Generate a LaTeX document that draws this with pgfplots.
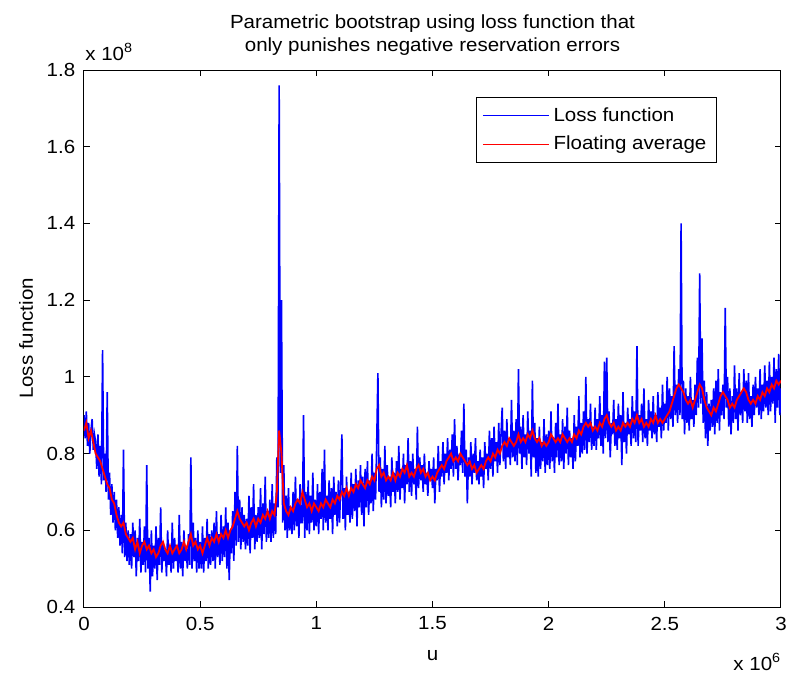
\documentclass[border=0pt]{standalone}
\usepackage{fontspec}
\setmainfont{Liberation Sans}[FakeStretch=1.08]
\usepackage{pgfplots}
\pgfplotsset{compat=1.18}

\begin{document}
\fontsize{9.5pt}{11.5pt}\selectfont
\begin{tikzpicture}
% frame of the whole picture: 789 x 677 px at 0.5pt per px
\path[use as bounding box] (-42pt,-35pt) rectangle (352.5pt,303.5pt);
\begin{axis}[
    name=ax,
    scale only axis,
    width=348.5pt, height=268.5pt,
    xmin=0, xmax=3, ymin=0.4, ymax=1.8,
    xtick={0,0.5,...,3}, ytick={0.4,0.6,...,1.8},
    scaled ticks=false,
    /pgf/number format/assume math mode=true,
    tick align=inside, major tick length=3pt,
    axis line style={line width=0.5pt},
    tick style={line width=0.5pt, black},
    xticklabel style={yshift=-1.5pt},
    yticklabel style={xshift=-1pt},
    xlabel={u},
    xlabel style={at={(axis description cs:0.5,0)}, anchor=base, yshift=-26.5pt},
    ylabel={Loss function},
    ylabel style={at={(axis description cs:0,0.5)}, anchor=center, yshift=29pt},
    legend cell align=left,
    legend style={at={(0.908,0.950)}, anchor=north east, draw=black,
      line width=0.5pt, fill=white, inner xsep=3pt, inner ysep=3pt,
      row sep=2pt},
    legend image code/.code={\draw[#1, line width=0.6pt] (0pt,0pt) -- (33pt,0pt);},
    clip mode=individual,
  ]
\addplot[blue, line width=0.8pt] coordinates {
(0,0.90)(0.005,0.84)(0.01,0.91)(0.015,0.82)(0.02,0.88)(0.025,0.80)(0.03,0.86)(0.035,0.89)(0.04,0.81)(0.045,0.85)
(0.05,0.83)(0.055,0.76)(0.06,0.85)(0.065,0.74)(0.07,0.82)(0.075,0.72)(0.08,1.07)(0.085,0.73)(0.09,0.80)(0.095,0.70)
(0.1,0.96)(0.105,0.68)(0.11,0.75)(0.115,0.64)(0.12,0.72)(0.125,0.62)(0.13,0.70)(0.135,0.60)(0.14,0.68)(0.145,0.58)
(0.15,0.66)(0.155,0.56)(0.16,0.64)(0.165,0.54)(0.17,0.81)(0.175,0.53)(0.18,0.62)(0.185,0.52)(0.19,0.60)(0.195,0.51)
(0.2,0.59)(0.205,0.50)(0.21,0.62)(0.215,0.53)(0.22,0.60)(0.225,0.48)(0.23,0.58)(0.235,0.52)(0.24,0.63)(0.245,0.49)
(0.25,0.57)(0.255,0.51)(0.26,0.61)(0.265,0.49)(0.27,0.77)(0.275,0.50)(0.28,0.58)(0.285,0.44)(0.29,0.60)(0.295,0.48)
(0.3,0.56)(0.305,0.50)(0.31,0.61)(0.315,0.47)(0.32,0.58)(0.325,0.51)(0.33,0.66)(0.335,0.49)(0.34,0.57)(0.345,0.52)
(0.35,0.55)(0.355,0.48)(0.36,0.60)(0.365,0.51)(0.37,0.56)(0.375,0.49)(0.38,0.62)(0.385,0.50)(0.39,0.58)(0.395,0.52)
(0.4,0.56)(0.405,0.49)(0.41,0.64)(0.415,0.50)(0.42,0.57)(0.425,0.48)(0.43,0.60)(0.435,0.52)(0.44,0.55)(0.445,0.50)
(0.45,0.59)(0.455,0.51)(0.46,0.79)(0.465,0.50)(0.47,0.62)(0.475,0.52)(0.48,0.58)(0.485,0.49)(0.49,0.60)(0.495,0.50)
(0.5,0.57)(0.505,0.50)(0.51,0.61)(0.515,0.49)(0.52,0.58)(0.525,0.52)(0.53,0.63)(0.535,0.50)(0.54,0.59)(0.545,0.51)
(0.55,0.60)(0.555,0.52)(0.56,0.62)(0.565,0.50)(0.57,0.65)(0.575,0.53)(0.58,0.59)(0.585,0.51)(0.59,0.64)(0.595,0.52)
(0.6,0.61)(0.605,0.53)(0.61,0.66)(0.615,0.50)(0.62,0.62)(0.625,0.47)(0.63,0.60)(0.635,0.54)(0.64,0.65)(0.645,0.52)
(0.65,0.70)(0.655,0.56)(0.66,0.82)(0.665,0.57)(0.67,0.68)(0.675,0.55)(0.68,0.66)(0.685,0.57)(0.69,0.64)(0.695,0.55)
(0.7,0.63)(0.705,0.56)(0.71,0.69)(0.715,0.54)(0.72,0.66)(0.725,0.58)(0.73,0.72)(0.735,0.55)(0.74,0.64)(0.745,0.57)
(0.75,0.66)(0.755,0.58)(0.76,0.71)(0.765,0.55)(0.77,0.67)(0.775,0.59)(0.78,0.74)(0.785,0.57)(0.79,0.65)(0.795,0.58)
(0.8,0.68)(0.805,0.57)(0.81,0.72)(0.815,0.58)(0.82,0.67)(0.825,0.59)(0.83,0.79)(0.835,0.66)(0.84,1.76)(0.845,0.75)
(0.85,1.20)(0.855,0.62)(0.86,0.77)(0.865,0.60)(0.87,0.69)(0.875,0.58)(0.88,0.71)(0.885,0.60)(0.89,0.66)(0.895,0.59)
(0.9,0.70)(0.905,0.60)(0.91,0.74)(0.915,0.61)(0.92,0.68)(0.925,0.58)(0.93,0.72)(0.935,0.62)(0.94,0.62)(0.945,0.90)
(0.95,0.58)(0.955,0.70)(0.96,0.60)(0.965,0.73)(0.97,0.59)(0.975,0.69)(0.98,0.62)(0.985,0.75)(0.99,0.60)(0.995,0.68)
(1.0,0.61)(1.005,0.72)(1.01,0.59)(1.015,0.70)(1.02,0.63)(1.025,0.76)(1.03,0.60)(1.035,0.81)(1.04,0.62)(1.045,0.69)
(1.05,0.60)(1.055,0.73)(1.06,0.63)(1.065,0.71)(1.07,0.59)(1.075,0.74)(1.08,0.64)(1.085,0.70)(1.09,0.61)(1.095,0.73)
(1.1,0.62)(1.105,0.72)(1.11,0.85)(1.115,0.63)(1.12,0.71)(1.125,0.60)(1.13,0.74)(1.135,0.64)(1.14,0.70)(1.145,0.62)
(1.15,0.75)(1.155,0.63)(1.16,0.72)(1.165,0.65)(1.17,0.76)(1.175,0.61)(1.18,0.73)(1.185,0.66)(1.19,0.77)(1.195,0.64)
(1.2,0.74)(1.205,0.61)(1.21,0.76)(1.215,0.66)(1.22,0.78)(1.225,0.64)(1.23,0.73)(1.235,0.67)(1.24,0.80)(1.245,0.65)
(1.25,0.75)(1.255,0.68)(1.26,0.83)(1.265,1.01)(1.27,0.70)(1.275,0.79)(1.28,0.66)(1.285,0.76)(1.29,0.68)(1.295,0.82)
(1.3,0.67)(1.305,0.77)(1.31,0.69)(1.315,0.74)(1.32,0.66)(1.325,0.79)(1.33,0.70)(1.335,0.75)(1.34,0.67)(1.345,0.78)
(1.35,0.70)(1.355,0.82)(1.36,0.68)(1.365,0.76)(1.37,0.71)(1.375,0.80)(1.38,0.67)(1.385,0.77)(1.39,0.72)(1.395,0.84)
(1.4,0.70)(1.405,0.78)(1.41,0.69)(1.415,0.80)(1.42,0.72)(1.425,0.76)(1.43,0.68)(1.435,0.87)(1.44,0.71)(1.445,0.79)
(1.45,0.73)(1.455,0.77)(1.46,0.70)(1.465,0.80)(1.47,0.72)(1.475,0.75)(1.48,0.69)(1.485,0.78)(1.49,0.73)(1.495,0.76)
(1.5,0.71)(1.505,0.79)(1.51,0.67)(1.515,0.76)(1.52,0.73)(1.525,0.82)(1.53,0.70)(1.535,0.78)(1.54,0.74)(1.545,0.83)
(1.55,0.72)(1.555,0.80)(1.56,0.75)(1.565,0.84)(1.57,0.73)(1.575,0.81)(1.58,0.76)(1.585,0.85)(1.59,0.74)(1.595,0.89)
(1.6,0.76)(1.605,0.82)(1.61,0.73)(1.615,0.80)(1.62,0.77)(1.625,0.86)(1.63,0.75)(1.635,0.93)(1.64,0.74)(1.645,0.81)
(1.65,0.67)(1.655,0.79)(1.66,0.74)(1.665,0.83)(1.67,0.72)(1.675,0.80)(1.68,0.75)(1.685,0.84)(1.69,0.73)(1.695,0.78)
(1.7,0.72)(1.705,0.81)(1.71,0.74)(1.715,0.79)(1.72,0.71)(1.725,0.83)(1.73,0.76)(1.735,0.80)(1.74,0.73)(1.745,0.86)
(1.75,0.76)(1.755,0.84)(1.76,0.74)(1.765,0.87)(1.77,0.78)(1.775,0.83)(1.78,0.75)(1.785,0.88)(1.79,0.77)(1.795,0.85)
(1.8,0.92)(1.805,0.78)(1.81,0.86)(1.815,0.76)(1.82,0.89)(1.825,0.79)(1.83,0.84)(1.835,0.77)(1.84,0.94)(1.845,0.79)
(1.85,0.86)(1.855,0.78)(1.86,0.89)(1.865,0.77)(1.87,1.02)(1.875,0.80)(1.88,0.87)(1.885,0.76)(1.89,0.90)(1.895,0.79)
(1.9,0.85)(1.905,0.77)(1.91,0.91)(1.915,0.80)(1.92,0.86)(1.925,0.74)(1.93,0.99)(1.935,0.79)(1.94,0.88)(1.945,0.75)
(1.95,0.84)(1.955,0.74)(1.96,0.87)(1.965,0.76)(1.97,0.83)(1.975,0.78)(1.98,0.89)(1.985,0.75)(1.99,0.85)(1.995,0.77)
(2.0,0.86)(2.005,0.76)(2.01,0.91)(2.015,0.78)(2.02,0.84)(2.025,0.75)(2.03,0.88)(2.035,0.79)(2.04,0.93)(2.045,0.77)
(2.05,0.85)(2.055,0.78)(2.06,0.89)(2.065,0.76)(2.07,0.87)(2.075,0.80)(2.08,0.92)(2.085,0.77)(2.09,0.86)(2.095,0.79)
(2.1,0.84)(2.105,0.76)(2.11,0.90)(2.115,0.78)(2.12,0.87)(2.125,0.82)(2.13,0.95)(2.135,0.79)(2.14,0.88)(2.145,0.80)
(2.15,0.91)(2.155,0.81)(2.16,1.00)(2.165,0.80)(2.17,0.89)(2.175,0.83)(2.18,0.93)(2.185,0.81)(2.19,0.87)(2.195,0.82)
(2.2,0.92)(2.205,0.81)(2.21,0.89)(2.215,0.84)(2.22,0.95)(2.225,0.82)(2.23,0.90)(2.235,0.80)(2.24,1.04)(2.245,0.84)
(2.25,1.05)(2.255,0.83)(2.26,0.91)(2.265,0.79)(2.27,0.88)(2.275,0.85)(2.28,0.94)(2.285,0.82)(2.29,0.89)(2.295,0.81)
(2.3,0.93)(2.305,0.84)(2.31,0.90)(2.315,0.77)(2.32,0.96)(2.325,0.83)(2.33,0.88)(2.335,0.80)(2.34,0.92)(2.345,0.85)
(2.35,0.89)(2.355,0.82)(2.36,0.95)(2.365,0.84)(2.37,0.91)(2.375,0.83)(2.38,1.08)(2.385,0.82)(2.39,0.90)(2.395,0.86)
(2.4,0.93)(2.405,0.83)(2.41,0.97)(2.415,0.84)(2.42,0.89)(2.425,0.82)(2.43,0.94)(2.435,0.86)(2.44,0.91)(2.445,0.84)
(2.45,0.95)(2.455,0.85)(2.46,0.90)(2.465,0.83)(2.47,0.96)(2.475,0.87)(2.48,0.92)(2.485,0.84)(2.49,0.98)(2.495,0.86)
(2.5,0.93)(2.505,0.88)(2.51,1.00)(2.515,0.86)(2.52,0.97)(2.525,0.89)(2.53,0.95)(2.535,0.87)(2.54,1.08)(2.545,0.90)
(2.55,0.98)(2.555,0.88)(2.56,1.02)(2.565,0.90)(2.57,1.40)(2.575,0.89)(2.58,0.99)(2.585,0.85)(2.59,0.97)(2.595,0.88)
(2.6,0.95)(2.605,0.86)(2.61,1.00)(2.615,0.89)(2.62,0.94)(2.625,0.87)(2.63,0.98)(2.635,0.90)(2.64,1.05)(2.645,0.92)
(2.65,1.27)(2.655,0.93)(2.66,1.10)(2.665,0.88)(2.67,0.99)(2.675,0.84)(2.68,0.96)(2.685,0.82)(2.69,0.93)(2.695,0.86)
(2.7,0.94)(2.705,0.87)(2.71,0.97)(2.715,0.85)(2.72,0.99)(2.725,0.88)(2.73,1.02)(2.735,0.86)(2.74,0.96)(2.745,0.90)
(2.75,0.98)(2.755,0.89)(2.76,1.18)(2.765,0.92)(2.77,1.00)(2.775,0.87)(2.78,0.97)(2.785,0.85)(2.79,0.95)(2.795,0.88)
(2.8,1.03)(2.805,0.89)(2.81,0.97)(2.815,0.86)(2.82,1.01)(2.825,0.90)(2.83,0.96)(2.835,0.88)(2.84,1.02)(2.845,0.91)
(2.85,0.99)(2.855,0.88)(2.86,1.01)(2.865,0.89)(2.87,0.95)(2.875,0.87)(2.88,0.98)(2.885,0.90)(2.89,1.00)(2.895,0.92)
(2.9,0.97)(2.905,0.90)(2.91,1.02)(2.915,0.89)(2.92,0.98)(2.925,0.91)(2.93,1.03)(2.935,0.92)(2.94,0.99)(2.945,0.90)
(2.95,1.04)(2.955,0.91)(2.96,1.00)(2.965,0.93)(2.97,1.05)(2.975,0.88)(2.98,1.02)(2.985,0.92)(2.99,1.06)(2.995,0.90)(3.0,0.97)
};
\addlegendentry{Loss function}
\addplot[red, line width=0.9pt] coordinates {
(0,0.86)(0.01,0.88)(0.02,0.84)(0.03,0.86)(0.04,0.83)(0.05,0.80)(0.06,0.79)(0.07,0.78)(0.08,0.76)(0.09,0.74)
(0.1,0.72)(0.11,0.71)(0.12,0.68)(0.13,0.67)(0.14,0.64)(0.15,0.62)(0.16,0.61)(0.17,0.62)(0.18,0.59)(0.19,0.58)
(0.2,0.57)(0.21,0.58)(0.22,0.55)(0.23,0.57)(0.24,0.54)(0.25,0.56)(0.26,0.57)(0.27,0.55)(0.28,0.56)(0.29,0.54)
(0.3,0.55)(0.31,0.53)(0.32,0.54)(0.33,0.56)(0.34,0.57)(0.35,0.55)(0.36,0.54)(0.37,0.56)(0.38,0.54)(0.39,0.55)
(0.4,0.56)(0.41,0.54)(0.42,0.55)(0.43,0.57)(0.44,0.55)(0.45,0.57)(0.46,0.59)(0.47,0.56)(0.48,0.57)(0.49,0.55)
(0.5,0.56)(0.51,0.54)(0.52,0.56)(0.53,0.58)(0.54,0.56)(0.55,0.58)(0.56,0.57)(0.57,0.59)(0.58,0.57)(0.59,0.59)
(0.6,0.58)(0.61,0.60)(0.62,0.58)(0.63,0.60)(0.64,0.61)(0.65,0.63)(0.66,0.65)(0.67,0.63)(0.68,0.62)(0.69,0.61)
(0.7,0.62)(0.71,0.60)(0.72,0.62)(0.73,0.63)(0.74,0.61)(0.75,0.63)(0.76,0.62)(0.77,0.64)(0.78,0.63)(0.79,0.65)
(0.8,0.63)(0.81,0.65)(0.82,0.64)(0.83,0.70)(0.84,0.86)(0.85,0.80)(0.86,0.67)(0.87,0.65)(0.88,0.64)(0.89,0.66)
(0.9,0.65)(0.91,0.67)(0.92,0.68)(0.93,0.67)(0.94,0.70)(0.95,0.68)(0.96,0.66)(0.97,0.67)(0.98,0.65)(0.99,0.67)
(1.0,0.66)(1.01,0.65)(1.02,0.67)(1.03,0.66)(1.04,0.68)(1.05,0.67)(1.06,0.66)(1.07,0.68)(1.08,0.67)(1.09,0.69)
(1.1,0.68)(1.11,0.70)(1.12,0.69)(1.13,0.71)(1.14,0.69)(1.15,0.71)(1.16,0.70)(1.17,0.72)(1.18,0.71)(1.19,0.73)
(1.2,0.72)(1.21,0.71)(1.22,0.73)(1.23,0.72)(1.24,0.74)(1.25,0.73)(1.26,0.76)(1.27,0.77)(1.28,0.74)(1.29,0.75)
(1.3,0.73)(1.31,0.74)(1.32,0.73)(1.33,0.75)(1.34,0.73)(1.35,0.75)(1.36,0.74)(1.37,0.76)(1.38,0.75)(1.39,0.77)
(1.4,0.74)(1.41,0.75)(1.42,0.74)(1.43,0.76)(1.44,0.77)(1.45,0.75)(1.46,0.76)(1.47,0.74)(1.48,0.75)(1.49,0.73)
(1.5,0.74)(1.51,0.73)(1.52,0.75)(1.53,0.76)(1.54,0.77)(1.55,0.76)(1.56,0.78)(1.57,0.79)(1.58,0.80)(1.59,0.78)
(1.6,0.79)(1.61,0.78)(1.62,0.80)(1.63,0.79)(1.64,0.78)(1.65,0.77)(1.66,0.78)(1.67,0.76)(1.68,0.77)(1.69,0.75)
(1.7,0.76)(1.71,0.77)(1.72,0.76)(1.73,0.78)(1.74,0.79)(1.75,0.78)(1.76,0.80)(1.77,0.79)(1.78,0.81)(1.79,0.80)
(1.8,0.82)(1.81,0.83)(1.82,0.82)(1.83,0.84)(1.84,0.83)(1.85,0.82)(1.86,0.83)(1.87,0.85)(1.88,0.83)(1.89,0.84)
(1.9,0.83)(1.91,0.85)(1.92,0.84)(1.93,0.86)(1.94,0.84)(1.95,0.83)(1.96,0.84)(1.97,0.82)(1.98,0.83)(1.99,0.82)
(2.0,0.83)(2.01,0.85)(2.02,0.84)(2.03,0.83)(2.04,0.84)(2.05,0.83)(2.06,0.85)(2.07,0.84)(2.08,0.83)(2.09,0.84)
(2.1,0.83)(2.11,0.85)(2.12,0.84)(2.13,0.86)(2.14,0.85)(2.15,0.87)(2.16,0.88)(2.17,0.87)(2.18,0.88)(2.19,0.86)
(2.2,0.87)(2.21,0.86)(2.22,0.88)(2.23,0.87)(2.24,0.89)(2.25,0.90)(2.26,0.88)(2.27,0.87)(2.28,0.88)(2.29,0.86)
(2.3,0.87)(2.31,0.86)(2.32,0.88)(2.33,0.87)(2.34,0.88)(2.35,0.87)(2.36,0.89)(2.37,0.88)(2.38,0.90)(2.39,0.88)
(2.4,0.89)(2.41,0.87)(2.42,0.88)(2.43,0.87)(2.44,0.89)(2.45,0.88)(2.46,0.90)(2.47,0.88)(2.48,0.89)(2.49,0.88)
(2.5,0.89)(2.51,0.90)(2.52,0.91)(2.53,0.93)(2.54,0.95)(2.55,0.97)(2.56,0.98)(2.57,0.97)(2.58,0.96)(2.59,0.94)
(2.6,0.93)(2.61,0.94)(2.62,0.92)(2.63,0.94)(2.64,0.96)(2.65,0.98)(2.66,0.97)(2.67,0.94)(2.68,0.92)(2.69,0.91)
(2.7,0.90)(2.71,0.92)(2.72,0.91)(2.73,0.93)(2.74,0.95)(2.75,0.96)(2.76,0.95)(2.77,0.94)(2.78,0.92)(2.79,0.93)
(2.8,0.92)(2.81,0.94)(2.82,0.95)(2.83,0.96)(2.84,0.97)(2.85,0.96)(2.86,0.94)(2.87,0.93)(2.88,0.94)(2.89,0.93)
(2.9,0.95)(2.91,0.94)(2.92,0.96)(2.93,0.95)(2.94,0.97)(2.95,0.96)(2.96,0.98)(2.97,0.97)(2.98,0.99)(2.99,0.98)(3.0,0.99)
};
\addlegendentry{Floating average}
% MATLAB style exponent labels and the two-line title
\node[anchor=base west, inner sep=0pt] at ([xshift=0.5pt,yshift=5pt]rel axis cs:0,1) {x 10\textsuperscript{8}};
\node[anchor=base west, inner sep=0pt] at ([xshift=-24pt,yshift=-31.5pt]rel axis cs:1,0) {x 10\textsuperscript{6}};
\node[anchor=base, inner sep=0pt] at ([yshift=21pt]rel axis cs:0.5,1) {Parametric bootstrap using loss function that};
\node[anchor=base, inner sep=0pt] at ([yshift=9.5pt]rel axis cs:0.5,1) {only punishes negative reservation errors};
\end{axis}
\end{tikzpicture}
\end{document}
